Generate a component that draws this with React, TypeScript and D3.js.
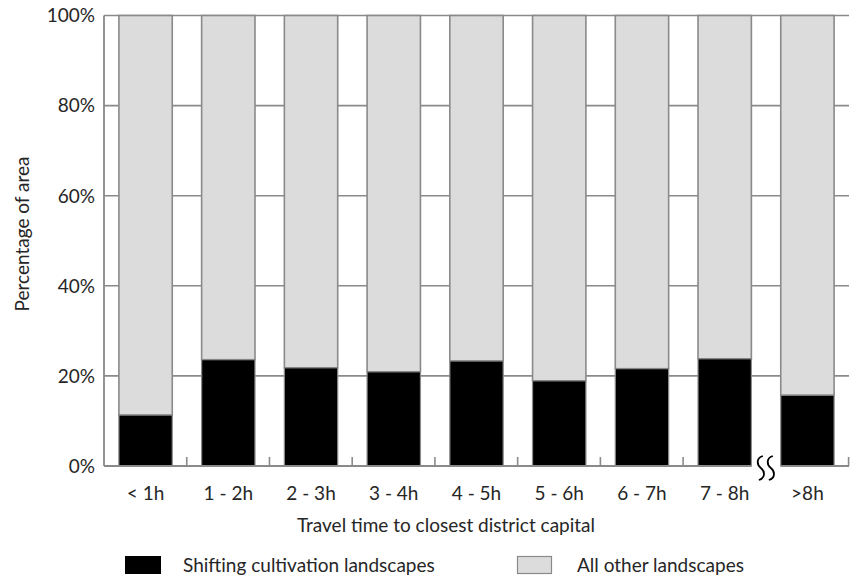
import React from "react";
import * as d3 from "d3";

const categories = ["< 1h", "1 - 2h", "2 - 3h", "3 - 4h", "4 - 5h", "5 - 6h", "6 - 7h", "7 - 8h", ">8h"];
const shifting = [11.3, 23.6, 21.8, 20.9, 23.3, 18.9, 21.6, 23.8, 15.7];
const yTicks = [0, 20, 40, 60, 80, 100];
const legendLabels = ["Shifting cultivation landscapes", "All other landscapes"];

const W = 850;
const H = 577;
const FONT = "Lato, 'Open Sans', sans-serif";
const FS = 19;
const TEXT = "#262626";
const GRID = "#8a8a8a";

export default function App() {
  const x = d3.scaleBand<string>().domain(categories).range([104, 849]).paddingInner(0.355).paddingOuter(0.18);
  const y = d3.scaleLinear().domain([0, 100]).range([466, 15.5]);
  const step = x.step();
  const x0 = 104;
  const boundaries = d3.range(1, categories.length + 1).map((i) => x0 + i * step);
  const breakX = x0 + 8 * step;
  const lastBarStart = x(categories[7])! + x.bandwidth();
  const nextBarStart = x(categories[8])!;

  const wave = (cx: number) => {
    const p = d3.path();
    p.moveTo(cx + 2, 456);
    p.bezierCurveTo(cx - 5, 458, cx - 4, 465, cx, 468);
    p.bezierCurveTo(cx + 4, 471, cx + 5, 478, cx - 2, 480);
    return p.toString();
  };

  return (
    <svg width={W} height={H} style={{ position: "absolute", left: 0, top: 0 }} fontFamily={FONT}>
      <rect width={W} height={H} fill="#fff" />
      {/* horizontal gridlines */}
      {yTicks.filter((t) => t > 0).map((t) => (
        <line key={t} x1={x0} x2={849} y1={y(t)} y2={y(t)} stroke={GRID} strokeWidth={1.6} />
      ))}
      {/* bars */}
      {categories.map((c, i) => {
        const bx = x(c)!;
        const bw = x.bandwidth();
        return (
          <g key={c}>
            <rect x={bx} y={y(100)} width={bw} height={y(shifting[i]) - y(100)} fill="#dcdcdc" stroke={GRID} strokeWidth={1.6} />
            <rect x={bx} y={y(shifting[i])} width={bw} height={y(0) - y(shifting[i])} fill="#000" stroke={GRID} strokeWidth={1.2} />
          </g>
        );
      })}
      {/* axes */}
      <line x1={x0} x2={x0} y1={y(100)} y2={y(0)} stroke={GRID} strokeWidth={1.8} />
      <line x1={x0} x2={lastBarStart} y1={y(0)} y2={y(0)} stroke={GRID} strokeWidth={1.8} />
      <line x1={nextBarStart} x2={849} y1={y(0)} y2={y(0)} stroke={GRID} strokeWidth={1.8} />
      {boundaries.filter((_, i) => i !== 7).map((bx, i) => (
        <line key={i} x1={bx} x2={bx} y1={y(0)} y2={y(0) - 9} stroke={GRID} strokeWidth={1.6} />
      ))}
      {/* break symbol */}
      <path d={wave(breakX - 5)} fill="none" stroke="#000" strokeWidth={1.8} />
      <path d={wave(breakX + 5)} fill="none" stroke="#000" strokeWidth={1.8} />
      {/* y tick labels */}
      {yTicks.map((t) => (
        <text key={t} x={95} y={y(t)} dy="0.36em" textAnchor="end" fontSize={FS} fill={TEXT}>
          {t}%
        </text>
      ))}
      {/* x tick labels */}
      {categories.map((c) => (
        <text key={c} x={x(c)! + x.bandwidth() / 2} y={500} textAnchor="middle" fontSize={FS} fill={TEXT}>
          {c}
        </text>
      ))}
      <text x={446} y={532} textAnchor="middle" fontSize={FS} fill={TEXT}>
        Travel time to closest district capital
      </text>
      <text transform={`translate(29,234) rotate(-90)`} textAnchor="middle" fontSize={FS} fill={TEXT}>
        Percentage of area
      </text>
      {/* legend */}
      <rect x={125} y={556} width={36} height={18} fill="#000" />
      <text x={183} y={572} fontSize={FS} fill={TEXT}>{legendLabels[0]}</text>
      <rect x={517.5} y={556.5} width={34} height={17} fill="#dcdcdc" stroke={GRID} strokeWidth={1.2} />
      <text x={577} y={572} fontSize={FS} fill={TEXT}>{legendLabels[1]}</text>
    </svg>
  );
}
